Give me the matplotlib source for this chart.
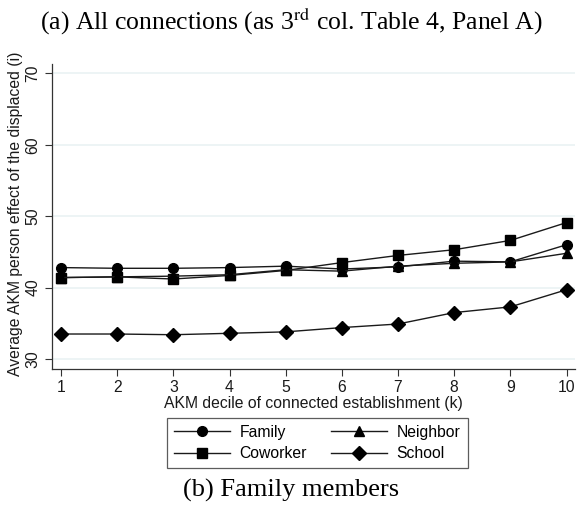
import matplotlib
matplotlib.use("Agg")
import matplotlib.pyplot as plt

# AKM decile of connected establishment (k)
deciles = [1, 2, 3, 4, 5, 6, 7, 8, 9, 10]

# average AKM person effect of the displaced
family = [42.8, 42.7, 42.7, 42.8, 43.0, 42.6, 42.9, 43.7, 43.6, 46.0]
coworker = [41.4, 41.5, 41.2, 41.7, 42.4, 43.5, 44.5, 45.3, 46.6, 49.1]
neighbor = [41.4, 41.5, 41.6, 41.8, 42.5, 42.3, 43.0, 43.4, 43.6, 44.8]
school = [33.5, 33.5, 33.4, 33.6, 33.8, 34.4, 34.9, 36.5, 37.3, 39.7]

y_ticks = [30, 40, 50, 60, 70]

plt.rcParams["font.family"] = ["Liberation Sans", "DejaVu Sans"]

fig = plt.figure(figsize=(5.83, 5.08), dpi=100)
ax = fig.add_axes([0.0892, 0.2736, 0.897, 0.6004])

series = [
    ("Family", family, "o", 7),
    ("Coworker", coworker, "s", 6.5),
    ("Neighbor", neighbor, "^", 7),
    ("School", school, "D", 7.5),
]
handles = []
for name, vals, mk, ms in series:
    h, = ax.plot(deciles, vals, color="#1a1a1a", lw=1.0, marker=mk,
                 markersize=ms, markerfacecolor="black",
                 markeredgecolor="black", label=name)
    handles.append(h)

ax.set_xlim(0.84, 10.15)
ax.set_ylim(28.6, 71.3)
ax.set_xticks(deciles)
ax.set_yticks(y_ticks)
ax.set_yticklabels([str(v) for v in y_ticks], rotation=90, va="center")
ax.tick_params(axis="both", labelsize=11.3, color="#333333", length=5,
               width=0.8, labelcolor="#1a1a1a")
ax.tick_params(axis="x", pad=3)
ax.grid(axis="y", color="#eaf2f3", lw=1.2)
ax.set_axisbelow(True)
for s in ["top", "right"]:
    ax.spines[s].set_visible(False)
for s in ["left", "bottom"]:
    ax.spines[s].set_color("#333333")
    ax.spines[s].set_linewidth(0.9)

ax.set_xlabel("AKM decile of connected establishment (k)", fontsize=11.3,
              color="#1a1a1a")
ax.xaxis.set_label_coords(0.5, -0.088)
ax.set_ylabel("Average AKM person effect of the displaced (i)", fontsize=11.3,
              color="#1a1a1a")
ax.yaxis.set_label_coords(-0.056, 0.51)

leg = fig.legend(handles=handles, ncol=2, loc="center",
                 bbox_to_anchor=(0.544, 0.128), fontsize=11.3,
                 frameon=True, fancybox=False, edgecolor="#333333",
                 handlelength=3.6, handletextpad=0.6, columnspacing=1.5,
                 labelspacing=0.4, borderpad=0.45)
leg.get_frame().set_linewidth(0.9)

fig.text(0.5, 0.958, "(a) All connections (as 3$^{\\rm rd}$ col. Table 4, Panel A)",
         ha="center", va="center", fontsize=18.5, family="Liberation Serif",
         math_fontfamily="stix")
fig.text(0.5, 0.035, "(b) Family members", ha="center", va="center",
         fontsize=19, family="Liberation Serif")

fig.savefig("out.png", dpi=100)
